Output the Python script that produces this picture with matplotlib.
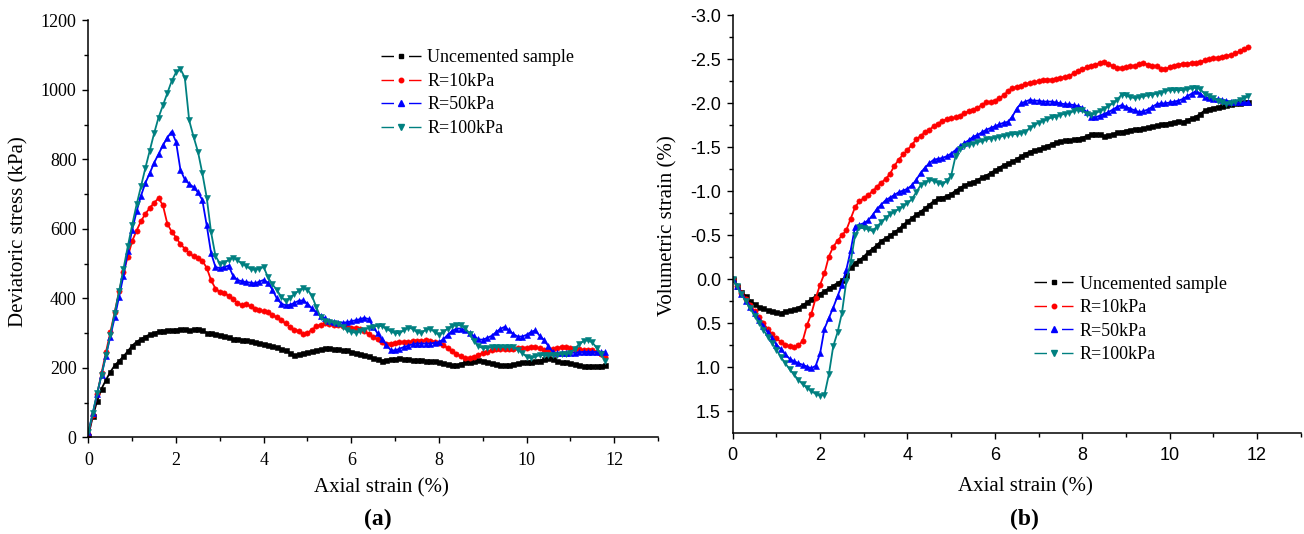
import matplotlib
matplotlib.use("Agg")
import matplotlib.pyplot as plt
from matplotlib.lines import Line2D
from matplotlib.ticker import MultipleLocator

plt.rcParams["axes.unicode_minus"] = False
SERIF = "Liberation Serif"
SANS = "Liberation Sans"

# ---------------------------------------------------------------- data
strain = [
    0.0, 0.1, 0.2, 0.3, 0.4, 0.5, 0.6, 0.7, 0.8, 0.9,
    1.0, 1.1, 1.2, 1.3, 1.4, 1.5, 1.6, 1.7, 1.8, 1.9,
    2.0, 2.1, 2.2, 2.3, 2.4, 2.5, 2.6, 2.7, 2.8, 2.9,
    3.0, 3.1, 3.2, 3.3, 3.4, 3.5, 3.6, 3.7, 3.8, 3.9,
    4.0, 4.1, 4.2, 4.3, 4.4, 4.5, 4.6, 4.7, 4.8, 4.9,
    5.0, 5.1, 5.2, 5.3, 5.4, 5.5, 5.6, 5.7, 5.8, 5.9,
    6.0, 6.1, 6.2, 6.3, 6.4, 6.5, 6.6, 6.7, 6.8, 6.9,
    7.0, 7.1, 7.2, 7.3, 7.4, 7.5, 7.6, 7.7, 7.8, 7.9,
    8.0, 8.1, 8.2, 8.3, 8.4, 8.5, 8.6, 8.7, 8.8, 8.9,
    9.0, 9.1, 9.2, 9.3, 9.4, 9.5, 9.6, 9.7, 9.8, 9.9,
    10.0, 10.1, 10.2, 10.3, 10.4, 10.5, 10.6, 10.7, 10.8, 10.9,
    11.0, 11.1, 11.2, 11.3, 11.4, 11.5, 11.6, 11.7, 11.8,
]

labels = ["Uncemented sample", "R=10kPa", "R=50kPa", "R=100kPa"]

# deviatoric stress (kPa)
q_uncemented = [
    5, 60, 105, 140, 165, 188, 207, 220, 233, 248,
    264, 275, 283, 290, 296, 300, 305, 307, 308, 308,
    310, 312, 311, 308, 311, 313, 308, 301, 299, 298,
    295, 292, 288, 284, 282, 281, 280, 278, 275, 271,
    269, 266, 262, 259, 255, 250, 242, 236, 239, 243,
    245, 248, 251, 254, 256, 257, 255, 253, 251, 250,
    247, 244, 241, 237, 233, 229, 224, 221, 223, 225,
    226, 227, 226, 224, 222, 222, 222, 221, 220, 219,
    217, 214, 210, 207, 208, 212, 216, 218, 220, 222,
    221, 218, 214, 211, 209, 207, 208, 211, 214, 216,
    217, 218, 220, 221, 225, 228, 226, 220, 217, 216,
    213, 210, 207, 206, 205, 205, 206, 206, 207,
]
q_r10 = [
    10, 65, 125, 185, 245, 302, 360, 420, 475, 520,
    565, 595, 622, 643, 660, 675, 688, 668, 615, 592,
    575, 556, 543, 530, 521, 517, 508, 488, 452, 428,
    418, 414, 408, 398, 387, 380, 383, 377, 370, 365,
    363, 360, 352, 345, 337, 328, 318, 309, 306, 296,
    300, 310, 319, 324, 328, 326, 324, 323, 320, 318,
    316, 314, 312, 305, 297, 289, 282, 275, 270, 270,
    272, 273, 274, 275, 276, 277, 278, 279, 278, 275,
    271, 265, 257, 248, 240, 233, 227, 227, 232, 238,
    243, 247, 251, 254, 255, 255, 255, 255, 256, 257,
    258, 259, 259, 256, 252, 250, 253, 257, 260, 259,
    257, 255, 253, 252, 251, 250, 246, 240, 232,
]
q_r50 = [
    15, 70, 125, 180, 235, 290, 345, 405, 465, 535,
    598, 650, 695, 732, 760, 790, 815, 840, 862, 880,
    850, 770, 742, 729, 720, 705, 683, 610, 530, 490,
    487, 490, 494, 465, 453, 449, 447, 445, 443, 448,
    453, 445, 425, 400, 385, 380, 381, 387, 393, 394,
    385, 371, 360, 350, 342, 335, 332, 330, 330, 331,
    334, 337, 340, 344, 340, 318, 299, 283, 266, 251,
    250, 255, 260, 264, 268, 270, 270, 270, 270, 272,
    274, 282, 295, 306, 313, 313, 309, 300, 291, 282,
    281, 286, 292, 302, 312, 318, 308, 297, 290, 290,
    295, 303, 308, 292, 280, 262, 245, 242, 242, 242,
    243, 244, 245, 246, 246, 246, 246, 246, 246,
]
q_r100 = [
    15, 70, 128, 180, 236, 295, 358, 420, 485, 550,
    612, 670, 722, 775, 825, 875, 920, 955, 990, 1025,
    1050, 1060, 1035, 912, 865, 822, 760, 690, 590, 522,
    500, 503, 510, 517, 510, 500, 493, 484, 482, 485,
    490, 460, 440, 424, 405, 392, 402, 412, 422, 429,
    425, 408, 375, 345, 335, 333, 330, 326, 318, 308,
    303, 301, 305, 310, 314, 318, 321, 320, 313, 305,
    300, 300, 308, 316, 312, 303, 300, 310, 313, 303,
    295, 303, 313, 320, 323, 322, 314, 298, 278, 262,
    257, 258, 259, 260, 260, 259, 260, 259, 252, 243,
    232, 228, 233, 236, 237, 236, 237, 237, 240, 240,
    244, 255, 268, 277, 279, 273, 258, 240, 220,
]

# volumetric strain (%), compression positive
ev_uncemented = [
    0.00, 0.07, 0.14, 0.19, 0.24, 0.28, 0.31, 0.33, 0.35, 0.36,
    0.37, 0.38, 0.36, 0.35, 0.34, 0.32, 0.29, 0.26, 0.22, 0.19,
    0.16, 0.13, 0.10, 0.07, 0.04, 0.01, -0.05, -0.14, -0.19, -0.22,
    -0.26, -0.31, -0.35, -0.39, -0.44, -0.47, -0.50, -0.54, -0.57, -0.62,
    -0.66, -0.70, -0.74, -0.77, -0.81, -0.85, -0.89, -0.92, -0.93, -0.95,
    -0.97, -1.01, -1.04, -1.07, -1.09, -1.11, -1.13, -1.16, -1.18, -1.21,
    -1.24, -1.27, -1.30, -1.32, -1.34, -1.37, -1.40, -1.43, -1.45, -1.47,
    -1.48, -1.50, -1.52, -1.54, -1.56, -1.57, -1.58, -1.58, -1.59, -1.60,
    -1.61, -1.63, -1.65, -1.65, -1.65, -1.63, -1.64, -1.65, -1.67, -1.68,
    -1.69, -1.70, -1.71, -1.71, -1.72, -1.73, -1.74, -1.75, -1.76, -1.77,
    -1.78, -1.79, -1.80, -1.79, -1.81, -1.83, -1.85, -1.88, -1.92, -1.94,
    -1.95, -1.96, -1.97, -1.98, -1.99, -2.00, -2.00, -2.01, -2.01,
]
ev_r10 = [
    0.00, 0.07, 0.15, 0.22, 0.29, 0.36, 0.43, 0.50, 0.56, 0.62,
    0.67, 0.71, 0.74, 0.76, 0.77, 0.75, 0.70, 0.52, 0.39, 0.21,
    0.06, -0.07, -0.26, -0.37, -0.44, -0.50, -0.56, -0.69, -0.82, -0.89,
    -0.92, -0.96, -1.00, -1.05, -1.10, -1.14, -1.20, -1.29, -1.36, -1.42,
    -1.47, -1.53, -1.59, -1.63, -1.67, -1.70, -1.74, -1.77, -1.80, -1.82,
    -1.83, -1.84, -1.86, -1.89, -1.91, -1.93, -1.95, -1.98, -2.01, -2.01,
    -2.03, -2.06, -2.09, -2.14, -2.17, -2.19, -2.20, -2.22, -2.23, -2.24,
    -2.25, -2.26, -2.27, -2.27, -2.28, -2.29, -2.30, -2.31, -2.34, -2.37,
    -2.39, -2.41, -2.43, -2.44, -2.46, -2.47, -2.45, -2.42, -2.40, -2.40,
    -2.41, -2.42, -2.43, -2.45, -2.46, -2.44, -2.43, -2.42, -2.39, -2.39,
    -2.41, -2.43, -2.44, -2.45, -2.45, -2.46, -2.46, -2.47, -2.49, -2.50,
    -2.51, -2.52, -2.53, -2.54, -2.55, -2.57, -2.59, -2.62, -2.64,
]
ev_r50 = [
    0.00, 0.08, 0.16, 0.24, 0.31, 0.38, 0.46, 0.53, 0.60, 0.67,
    0.74, 0.79, 0.85, 0.90, 0.93, 0.95, 0.97, 0.99, 1.01, 0.98,
    0.84, 0.56, 0.44, 0.32, 0.19, 0.06, -0.11, -0.33, -0.60, -0.62,
    -0.64, -0.67, -0.73, -0.80, -0.85, -0.90, -0.93, -0.96, -0.99, -1.01,
    -1.03, -1.07, -1.13, -1.21, -1.27, -1.32, -1.36, -1.37, -1.38, -1.40,
    -1.43, -1.47, -1.51, -1.55, -1.58, -1.62, -1.64, -1.67, -1.70, -1.72,
    -1.74, -1.76, -1.78, -1.79, -1.85, -1.94, -2.00, -2.02, -2.04, -2.03,
    -2.03, -2.02, -2.02, -2.02, -2.01, -2.00, -1.99, -1.99, -1.98, -1.97,
    -1.95, -1.90, -1.85, -1.84, -1.86, -1.88, -1.90, -1.93, -1.96, -1.98,
    -1.96, -1.94, -1.92, -1.90, -1.91, -1.93, -1.96, -1.99, -2.00, -2.00,
    -2.01, -2.02, -2.03, -2.05, -2.08, -2.11, -2.14, -2.11, -2.07, -2.06,
    -2.05, -2.05, -2.04, -2.03, -2.02, -2.01, -2.01, -2.01, -2.01,
]
ev_r100 = [
    0.00, 0.08, 0.17, 0.25, 0.33, 0.41, 0.49, 0.57, 0.65, 0.72,
    0.80, 0.88, 0.95, 1.02, 1.08, 1.14, 1.19, 1.23, 1.27, 1.30,
    1.32, 1.31, 1.08, 0.76, 0.60, 0.38, 0.02, -0.20, -0.50, -0.59,
    -0.58, -0.57, -0.55, -0.60, -0.65, -0.70, -0.74, -0.77, -0.80, -0.83,
    -0.87, -0.91, -0.99, -1.07, -1.10, -1.13, -1.12, -1.10, -1.08, -1.12,
    -1.18, -1.40, -1.48, -1.52, -1.53, -1.54, -1.56, -1.57, -1.59, -1.60,
    -1.61, -1.62, -1.63, -1.64, -1.65, -1.65, -1.66, -1.68, -1.72, -1.75,
    -1.78, -1.80, -1.82, -1.84, -1.85, -1.87, -1.88, -1.89, -1.91, -1.93,
    -1.92, -1.88, -1.87, -1.89, -1.91, -1.94, -1.97, -2.00, -2.04, -2.10,
    -2.09, -2.07, -2.06, -2.07, -2.08, -2.09, -2.10, -2.11, -2.12, -2.14,
    -2.15, -2.15, -2.15, -2.15, -2.16, -2.17, -2.18, -2.16, -2.11, -2.08,
    -2.06, -2.03, -2.01, -1.99, -2.00, -2.02, -2.04, -2.06, -2.08,
]

colors = ["#000000", "#ff0000", "#0000ff", "#008080"]
markers = ["s", "o", "^", "v"]
msizes = [3.6, 3.8, 5.0, 5.0]

# ---------------------------------------------------------------- figure
fig = plt.figure(figsize=(13.04, 5.34), dpi=100)
axA = fig.add_axes([0.0678, 0.181, 0.4368, 0.781])
axB = fig.add_axes([0.5619, 0.1899, 0.4356, 0.7814])


def draw_series(ax, ys):
    for y, c, m, s in zip(ys, colors, markers, msizes):
        ax.plot(strain, y, color=c, lw=1.3, marker=m, ms=s,
                mfc=c, mec=c, mew=0.4)


def style_axes(ax, tick_family):
    for side in ("top", "right"):
        ax.spines[side].set_visible(False)
    for side in ("left", "bottom"):
        ax.spines[side].set_linewidth(1.1)
    ax.tick_params(which="major", direction="out", length=4.5, width=1.0,
                   labelsize=13, labelfontfamily=tick_family, pad=4)
    ax.tick_params(which="minor", direction="out", length=2.8, width=1.0)
    ax.tick_params(axis="x", which="major", pad=6)


def add_legend(ax, anchor):
    handles = [
        Line2D([], [], color=c, lw=1.0, linestyle=(0, (9, 10.8)),
               marker=m, ms=s * 0.85, mfc=c, mec=c)
        for c, m, s in zip(colors, markers, msizes)
    ]
    ax.legend(handles, labels, loc="upper left", bbox_to_anchor=anchor,
              frameon=False, numpoints=1, handlelength=2.2,
              handletextpad=0.35, labelspacing=0.36, borderpad=0,
              borderaxespad=0, prop={"family": SERIF, "size": 13})


# (a) stress-strain
draw_series(axA, [q_uncemented, q_r10, q_r50, q_r100])
axA.set_xlim(0, 13)
axA.set_ylim(0, 1200)
axA.xaxis.set_major_locator(MultipleLocator(2))
axA.xaxis.set_minor_locator(MultipleLocator(1))
axA.yaxis.set_major_locator(MultipleLocator(200))
axA.yaxis.set_minor_locator(MultipleLocator(100))
style_axes(axA, SERIF)
axA.set_xlabel("Axial strain (%)", family=SERIF, fontsize=15, va="center")
axA.set_ylabel("Deviatoric stress (kPa)", family=SERIF, fontsize=15,
               va="center")
axA.xaxis.set_label_coords(0.515, -0.122)
axA.yaxis.set_label_coords(-0.122, 0.493)
add_legend(axA, (0.514, 0.93))

# (b) volumetric strain
draw_series(axB, [ev_uncemented, ev_r10, ev_r50, ev_r100])
axB.set_xlim(0, 13)
axB.set_ylim(1.74, -3.0)
axB.xaxis.set_major_locator(MultipleLocator(2))
axB.xaxis.set_minor_locator(MultipleLocator(1))
axB.yaxis.set_major_locator(MultipleLocator(0.5))
axB.yaxis.set_minor_locator(MultipleLocator(0.25))
axB.yaxis.set_major_formatter(lambda v, pos: f"{v:.1f}")
style_axes(axB, SANS)
axB.set_xlabel("Axial strain (%)", family=SERIF, fontsize=15, va="center")
axB.set_ylabel("Volumetric strain (%)", family=SERIF, fontsize=15,
               va="center")
axB.xaxis.set_label_coords(0.516, -0.130)
axB.yaxis.set_label_coords(-0.114, 0.496)
add_legend(axB, (0.53, 0.376))

fig.text(377.6 / 1304, 1 - 519 / 534, "(a)", family=SERIF, fontsize=17,
         fontweight="bold", ha="center", va="center")
fig.text(1024 / 1304, 1 - 519 / 534, "(b)", family=SERIF, fontsize=17,
         fontweight="bold", ha="center", va="center")

fig.savefig("out.png", dpi=100)
